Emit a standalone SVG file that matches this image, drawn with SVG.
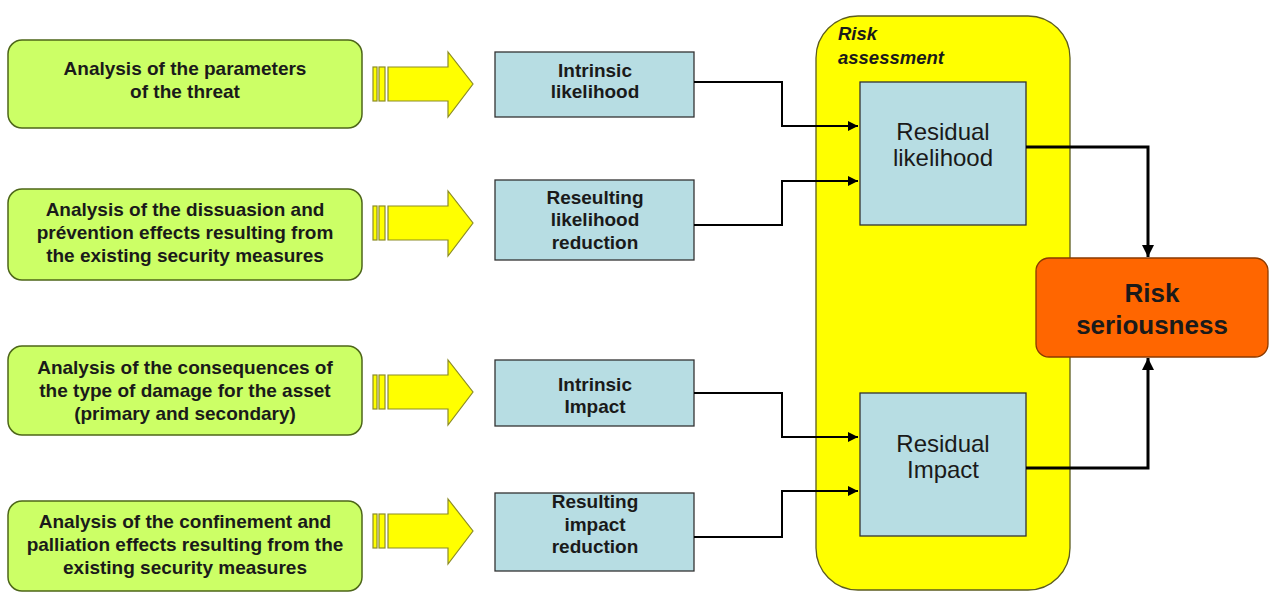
<svg xmlns="http://www.w3.org/2000/svg" width="1280" height="599" viewBox="0 0 1280 599">
<style>
.green{fill:#ccff66;stroke:#4d6619;stroke-width:1.5}
.blue{fill:#b7dde3;stroke:#333;stroke-width:1.3}
.arr{fill:#ffff00;stroke:#8c8c26;stroke-width:1.2}
.t{font-family:"Liberation Sans",Arial,sans-serif;font-weight:bold;fill:#1a1a1a;text-anchor:middle}
.g{font-size:19px}
.b{font-size:19px}
.r{font-size:24px;font-weight:normal}
.c{fill:none;stroke:#000;stroke-width:2}
.c2{fill:none;stroke:#000;stroke-width:3}
</style>
<defs>
<marker id="ah" viewBox="0 0 10 10" refX="10" refY="5" markerWidth="5" markerHeight="5" orient="auto" markerUnits="strokeWidth"><path d="M0,0 L10,5 L0,10 z" fill="#000"/></marker>
<marker id="ah2" viewBox="0 0 10 10" refX="10" refY="5" markerWidth="4" markerHeight="4" orient="auto" markerUnits="strokeWidth"><path d="M0,0 L10,5 L0,10 z" fill="#000"/></marker>
<g id="bigarrow">
<rect x="373" y="0" width="4" height="34" class="arr"/>
<rect x="379" y="0" width="6" height="34" class="arr"/>
<path d="M388,0 L448,0 L448,-15 L473,17 L448,50 L448,34 L388,34 z" class="arr"/>
</g>
</defs>
<rect width="1280" height="599" fill="#fff"/>

<g id="risk-assessment">
<rect x="816" y="16" width="254" height="574" rx="42" fill="#ffff00" stroke="#5c5c1f" stroke-width="1.3"/>
<text x="838" y="40" font-family="'Liberation Sans',Arial,sans-serif" font-weight="bold" font-style="italic" font-size="18.5" fill="#1a1a1a">Risk</text>
<text x="838" y="64" font-family="'Liberation Sans',Arial,sans-serif" font-weight="bold" font-style="italic" font-size="18.5" fill="#1a1a1a">assessment</text>
</g>

<g id="a1">
<rect x="8" y="40" width="354" height="88" rx="14" class="green"/>
<text class="t g" x="185" y="75">Analysis of the parameters</text>
<text class="t g" x="185" y="98">of the threat</text>
</g>
<g id="a2">
<rect x="8" y="189" width="354" height="91" rx="14" class="green"/>
<text class="t g" x="185" y="216">Analysis of the dissuasion and</text>
<text class="t g" x="185" y="239">prévention effects resulting from</text>
<text class="t g" x="185" y="262">the existing security measures</text>
</g>
<g id="a3">
<rect x="8" y="346" width="354" height="89" rx="14" class="green"/>
<text class="t g" x="185" y="374">Analysis of the consequences of</text>
<text class="t g" x="185" y="397">the type of damage for the asset</text>
<text class="t g" x="185" y="420">(primary and secondary)</text>
</g>
<g id="a4">
<rect x="8" y="501" width="354" height="90" rx="14" class="green"/>
<text class="t g" x="185" y="528">Analysis of the confinement and</text>
<text class="t g" x="185" y="551">palliation effects resulting from the</text>
<text class="t g" x="185" y="574">existing security measures</text>
</g>

<g id="arrows">
<use href="#bigarrow" y="67"/>
<use href="#bigarrow" y="206"/>
<use href="#bigarrow" y="375"/>
<use href="#bigarrow" y="514"/>
</g>

<g id="b1">
<rect x="495" y="52" width="199" height="65" class="blue"/>
<text class="t b" x="595" y="77">Intrinsic</text>
<text class="t b" x="595" y="98">likelihood</text>
</g>
<g id="b2">
<rect x="495" y="180" width="199" height="80" class="blue"/>
<text class="t b" x="595" y="204">Reseulting</text>
<text class="t b" x="595" y="226">likelihood</text>
<text class="t b" x="595" y="249">reduction</text>
</g>
<g id="b3">
<rect x="495" y="360" width="199" height="66" class="blue"/>
<text class="t b" x="595" y="391">Intrinsic</text>
<text class="t b" x="595" y="413">Impact</text>
</g>
<g id="b4">
<rect x="495" y="493" width="199" height="78" class="blue"/>
<text class="t b" x="595" y="508">Resulting</text>
<text class="t b" x="595" y="531">impact</text>
<text class="t b" x="595" y="553">reduction</text>
</g>

<g id="residual-likelihood">
<rect x="860" y="82" width="166" height="143" class="blue"/>
<text class="t r" x="943" y="140">Residual</text>
<text class="t r" x="943" y="166">likelihood</text>
</g>
<g id="residual-impact">
<rect x="860" y="393" width="166" height="143" class="blue"/>
<text class="t r" x="943" y="452">Residual</text>
<text class="t r" x="943" y="478">Impact</text>
</g>
<g id="risk-seriousness">
<rect x="1036" y="258" width="232" height="99" rx="13" fill="#ff6600" stroke="#8a3a00" stroke-width="1.3"/>
<text class="t" x="1152" y="302" font-size="26">Risk</text>
<text class="t" x="1152" y="334" font-size="26">seriousness</text>
</g>

<g id="connectors">
<path class="c" d="M694,82 H782 V126 H858" marker-end="url(#ah)"/>
<path class="c" d="M694,225 H782 V181 H858" marker-end="url(#ah)"/>
<path class="c" d="M694,393 H782 V437 H858" marker-end="url(#ah)"/>
<path class="c" d="M694,537 H782 V491 H858" marker-end="url(#ah)"/>
<path class="c2" d="M1026,147 H1148 V257" marker-end="url(#ah2)"/>
<path class="c2" d="M1026,468 H1148 V358" marker-end="url(#ah2)"/>
</g>
</svg>
